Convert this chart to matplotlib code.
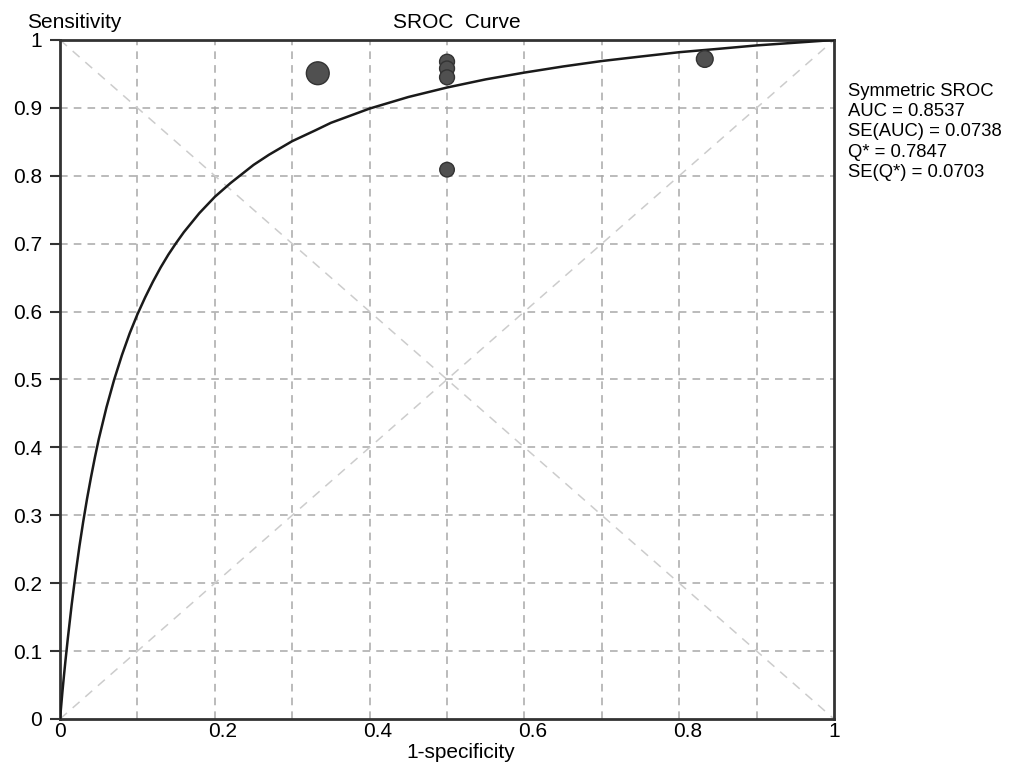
# Imports
from matplotlib import pyplot as plt
from matplotlib.transforms import ScaledTranslation

plt.rcParams['font.family'] = ['Liberation Sans', 'DejaVu Sans']

# Data
curve_fpr = [0.0, 0.0005, 0.001, 0.002, 0.003, 0.005, 0.007, 0.01, 0.015, 0.02, 0.025, 0.03, 0.035,
	0.04, 0.045, 0.05, 0.06, 0.07, 0.08, 0.09, 0.1, 0.11, 0.12, 0.13, 0.14, 0.15, 0.16, 0.18,
	0.2, 0.22, 0.25, 0.27, 0.3, 0.33, 0.35, 0.4, 0.45, 0.5, 0.55, 0.6, 0.65, 0.7, 0.75, 0.8,
	0.85, 0.9, 0.95, 1.0]
curve_sens = [0.0, 0.0066, 0.013, 0.026, 0.039, 0.063, 0.0857, 0.118, 0.168, 0.213, 0.254, 0.291, 0.325,
	0.356, 0.385, 0.412, 0.459, 0.500, 0.536, 0.568, 0.596, 0.621, 0.644, 0.665, 0.684, 0.701, 0.717, 0.745,
	0.769, 0.789, 0.816, 0.831, 0.851, 0.867, 0.878, 0.899, 0.916, 0.930, 0.942, 0.952, 0.961, 0.969, 0.9756, 0.982,
	0.9869, 0.992, 0.996, 1.0]

study_fpr = [0.333, 0.5, 0.5, 0.5, 0.5, 0.833]
study_sens = [0.951, 0.968, 0.958, 0.945, 0.809, 0.972]
study_size = [270, 115, 115, 115, 110, 145]

ticks = [0, 0.1, 0.2, 0.3, 0.4, 0.5, 0.6, 0.7, 0.8, 0.9, 1]
x_tick_labels = ["0", "", "0.2", "", "0.4", "", "0.6", "", "0.8", "", "1"]
y_tick_labels = ["0", "0.1", "0.2", "0.3", "0.4", "0.5", "0.6", "0.7", "0.8", "0.9", "1"]

stats_lines = ["Symmetric SROC", "AUC = 0.8537", "SE(AUC) = 0.0738", "Q* = 0.7847", "SE(Q*) = 0.0703"]


# Figure and axes
fig = plt.figure(figsize = (10.09, 7.63), dpi = 100)
ax = fig.add_axes([0.0595, 0.0577, 0.7671, 0.8899])
ax.set_xlim(0, 1)
ax.set_ylim(0, 1)

# Grid and diagonals
for t in ticks[1:-1]:
	ax.axvline(t, color = "#a8a8a8", linestyle = (0, (5, 4)), linewidth = 1.1, zorder = 1)
	ax.axhline(t, color = "#a8a8a8", linestyle = (0, (5, 4)), linewidth = 1.1, zorder = 1)
ax.plot([0, 1], [0, 1], color = "#cccccc", linestyle = (0, (6, 5)), linewidth = 1.1, zorder = 1)
ax.plot([0, 1], [1, 0], color = "#cccccc", linestyle = (0, (6, 5)), linewidth = 1.1, zorder = 1)

# Curve and studies
ax.plot(curve_fpr, curve_sens, color = "#1a1a1a", linewidth = 1.8, zorder = 3)
ax.scatter(study_fpr, study_sens, s = study_size, color = "#505050", edgecolor = "#333333",
	linewidth = 1.0, zorder = 4)

# Axes styling
for spine in ax.spines.values():
	spine.set_linewidth(2)
	spine.set_color("#333333")
ax.set_xticks(ticks)
ax.set_xticklabels(x_tick_labels, fontsize = 15)
ax.set_yticks(ticks)
ax.set_yticklabels(y_tick_labels, fontsize = 15)
ax.tick_params(axis = "x", length = 0, pad = 2)
ax.tick_params(axis = "y", length = 7, width = 1.5, color = "#333333", pad = 6)

# Decimal x labels sit a little to the right of their ticks
for label in ax.get_xticklabels():
	if label.get_text().startswith("0."):
		label.set_transform(label.get_transform() + ScaledTranslation(8 / 100, 0, fig.dpi_scale_trans))

# Texts
fig.text(27 / 1009, 1 - 28 / 763, "Sensitivity", fontsize = 15, va = "baseline", ha = "left")
fig.text(457 / 1009, 1 - 28 / 763, "SROC  Curve", fontsize = 15, va = "baseline", ha = "center")
fig.text(461 / 1009, 1 - 758 / 763, "1-specificity", fontsize = 15, va = "baseline", ha = "center")
ax.text(1.018, 0.937, "\n".join(stats_lines), transform = ax.transAxes, fontsize = 13.3,
	va = "top", ha = "left", linespacing = 1.25)

fig.savefig("out.png", dpi = 100)
